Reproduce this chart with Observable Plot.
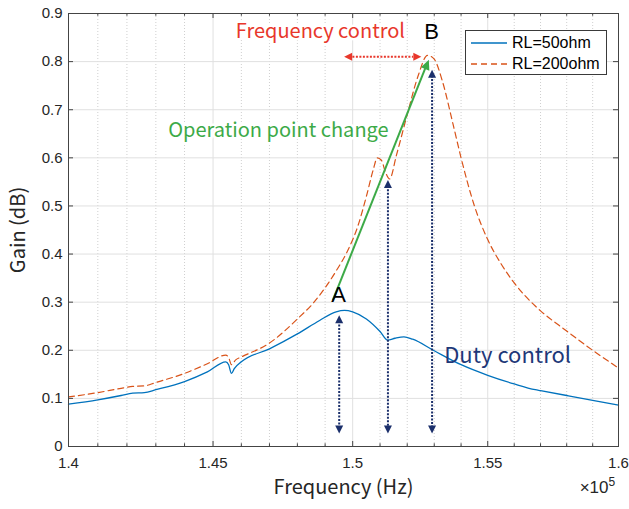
<!DOCTYPE html>
<html>
<head>
<meta charset="utf-8">
<script src="https://cdn.jsdelivr.net/npm/d3@7"></script>
<script src="https://cdn.jsdelivr.net/npm/@observablehq/plot@0.6"></script>
<style>
  body { margin: 0; background: #fff; }
  #wrap { position: relative; width: 629px; height: 509px; }
  .legend {
    position: absolute; left: 465px; top: 30px; width: 142px; height: 45px;
    border: 1px solid #3a3a3a; background: #fff; box-sizing: border-box;
    font: 16px "Liberation Sans", Arial, sans-serif; color: #000;
  }
  .legend .row { position: absolute; left: 4px; height: 18px; display: flex; align-items: center; }
  .legend svg { margin-right: 4px; }
</style>
</head>
<body>
<div id="wrap"></div>
<script>
// Frequency in units of 1e5 Hz (axis multiplier shown as ×10^5)
const xTicks = [1.4, 1.45, 1.5, 1.55, 1.6];
const xMinor = d3.range(140, 161).map(d => d / 100);
const yTicks = [0, 0.1, 0.2, 0.3, 0.4, 0.5, 0.6, 0.7, 0.8, 0.9];

// RL = 50 ohm
const freq50 = [1.400, 1.410, 1.418, 1.422, 1.426, 1.430, 1.440, 1.448, 1.4545, 1.4555, 1.4565, 1.4575,
  1.460, 1.470, 1.480, 1.488, 1.494, 1.497, 1.500, 1.505, 1.510, 1.5128, 1.5155, 1.5188, 1.522,
  1.530, 1.540, 1.550, 1.560, 1.568, 1.570, 1.580, 1.590, 1.600];
const gain50 = [0.088, 0.097, 0.106, 0.111, 0.112, 0.118, 0.135, 0.155, 0.176, 0.170, 0.152, 0.162,
  0.176, 0.203, 0.234, 0.262, 0.280, 0.283, 0.280, 0.265, 0.239, 0.221, 0.225, 0.228, 0.223,
  0.199, 0.170, 0.148, 0.130, 0.118, 0.116, 0.106, 0.096, 0.086];

// RL = 200 ohm
const freq200 = [1.400, 1.410, 1.418, 1.422, 1.426, 1.430, 1.440, 1.448, 1.4545, 1.4555, 1.4565, 1.458,
  1.460, 1.470, 1.480, 1.486, 1.490, 1.494, 1.498, 1.502, 1.505, 1.5075, 1.509, 1.5105, 1.512, 1.5135,
  1.516, 1.520, 1.524, 1.5275, 1.530, 1.533, 1.537, 1.540, 1.545, 1.550, 1.555, 1.560, 1.568, 1.570,
  1.580, 1.590, 1.600];
const gain200 = [0.103, 0.112, 0.121, 0.125, 0.126, 0.133, 0.152, 0.172, 0.190, 0.185, 0.170, 0.180,
  0.186, 0.215, 0.265, 0.300, 0.330, 0.365, 0.405, 0.460, 0.520, 0.575, 0.600, 0.595, 0.570, 0.556,
  0.605, 0.690, 0.770, 0.813, 0.805, 0.760, 0.670, 0.600, 0.500, 0.430, 0.380, 0.340, 0.292, 0.282,
  0.240, 0.200, 0.163];

// Operating points and control annotations
const pointA = {f: 1.4928, g: 0.304};
const pointB = {f: 1.5280, g: 0.804};
const dutyFreqs = [1.4951, 1.5129, 1.5292];
const dutyTops = [0.273, 0.554, 0.783];
const dutyBottom = 0.027;
const freqCtrl = {f1: 1.4969, f2: 1.5252, g: 0.81};

const labels = [
  {f: 1.4883, g: 0.8625, text: "Frequency control", color: "#e8372b", size: 20, font: "Noto Sans CJK KR", halo: true},
  {f: 1.5290, g: 0.8625, text: "B", color: "#000", size: 22, font: "Liberation Sans", halo: false},
  {f: 1.4732, g: 0.6560, text: "Operation point change", color: "#3caa47", size: 20, font: "Noto Sans CJK KR", halo: true},
  {f: 1.4949, g: 0.3146, text: "A", color: "#000", size: 22, font: "Liberation Sans", halo: false},
  {f: 1.5575, g: 0.1875, text: "Duty control", color: "#1e3878", size: 22, font: "Noto Sans CJK KR", halo: false}
];

const series50 = freq50.map((f, i) => ({f, g: gain50[i]}));
const series200 = freq200.map((f, i) => ({f, g: gain200[i]}));

const W = 629, H = 509, mL = 68, mR = 11, mT = 13, mB = 63;
const xDomain = [1.4, 1.6], yDomain = [0, 0.9];
const sx = Plot.scale({x: {type: "log", domain: xDomain, range: [mL, W - mR]}});
const sy = Plot.scale({y: {type: "linear", domain: yDomain, range: [H - mB, mT]}});

// Filled triangular arrow head with its tip at the anchor point
function head(angle, len = 8, half = 4) {
  const ux = Math.cos(angle), uy = Math.sin(angle), px = -uy, py = ux;
  return {
    draw(ctx) {
      ctx.moveTo(0, 0);
      ctx.lineTo(-len * ux + half * px, -len * uy + half * py);
      ctx.lineTo(-len * ux - half * px, -len * uy - half * py);
      ctx.closePath();
    }
  };
}
const greenAngle = Math.atan2(sy.apply(pointB.g) - sy.apply(pointA.g), sx.apply(pointB.f) - sx.apply(pointA.f));

// tick lengths in data units
const majY = (yDomain[1] - yDomain[0]) * 5 / (H - mB - mT);
const minY = majY * 0.55;
const majX = Math.pow(xDomain[1] / xDomain[0], 5 / (W - mL - mR));
const isMajor = v => xTicks.some(t => Math.abs(t - v) < 1e-9);

const minorGrid = xMinor.filter(v => !isMajor(v));
const navy = "#1b2f6b";

const chart = Plot.plot({
  width: W, height: H,
  marginLeft: mL, marginRight: mR, marginTop: mT, marginBottom: mB,
  x: {type: "log", domain: xDomain},
  y: {domain: yDomain},
  style: {fontFamily: "'Liberation Sans', Arial, sans-serif", fontSize: "15px", color: "#262626", background: "#fff"},
  marks: [
    // grid
    Plot.ruleX(minorGrid, {stroke: "#cfcfcf", strokeDasharray: "1,2", strokeWidth: 1}),
    Plot.ruleX(xTicks.slice(1, -1), {stroke: "#e0e0e0", strokeWidth: 1}),
    Plot.ruleY(yTicks.slice(1, -1), {stroke: "#e0e0e0", strokeWidth: 1}),
    // curves
    Plot.line(series50, {x: "f", y: "g", stroke: "#0072BD", strokeWidth: 1.3, curve: "monotone-x"}),
    Plot.line(series200, {x: "f", y: "g", stroke: "#D95319", strokeWidth: 1.2, strokeDasharray: "6,4", curve: "monotone-x"}),
    // duty control: vertical dotted double arrows
    Plot.link(dutyFreqs, {x1: d => d, x2: d => d, y1: (d, i) => dutyTops[i] - 0.012, y2: dutyBottom + 0.012,
      stroke: navy, strokeWidth: 2, strokeDasharray: "2,1.5"}),
    Plot.dot(dutyFreqs, {x: d => d, y: (d, i) => dutyTops[i], symbol: head(-Math.PI / 2), fill: navy, stroke: "none"}),
    Plot.dot(dutyFreqs, {x: d => d, y: dutyBottom, symbol: head(Math.PI / 2), fill: navy, stroke: "none"}),
    // frequency control: horizontal dotted double arrow
    Plot.link([freqCtrl], {x1: d => d.f1 * 1.002, x2: d => d.f2 / 1.002, y1: "g", y2: "g",
      stroke: "#e8372b", strokeWidth: 2, strokeDasharray: "2,1.5"}),
    Plot.dot([freqCtrl], {x: "f1", y: "g", symbol: head(Math.PI), fill: "#e8372b", stroke: "none"}),
    Plot.dot([freqCtrl], {x: "f2", y: "g", symbol: head(0), fill: "#e8372b", stroke: "none"}),
    // operating point change A -> B
    Plot.link([pointA], {x1: "f", y1: "g", x2: () => pointB.f - 0.0012, y2: () => pointB.g - 0.016,
      stroke: "#3caa47", strokeWidth: 2}),
    Plot.dot([pointB], {x: "f", y: "g", symbol: head(greenAngle, 10, 4.5), fill: "#3caa47", stroke: "none"}),
    // annotation text
    ...labels.map(l => Plot.text([l], {x: "f", y: "g", text: "text", fill: l.color, fontSize: l.size,
      fontFamily: l.font, stroke: l.halo ? "white" : null, strokeWidth: l.halo ? 5 : 0})),
    // box and inward ticks
    Plot.frame({stroke: "#444", strokeWidth: 1}),
    Plot.ruleX(xMinor, {y1: 0, y2: d => isMajor(d) ? majY : minY, stroke: "#444"}),
    Plot.ruleX(xMinor, {y1: 0.9, y2: d => 0.9 - (isMajor(d) ? majY : minY), stroke: "#444"}),
    Plot.ruleY(yTicks, {x1: xDomain[0], x2: xDomain[0] * majX, stroke: "#444"}),
    Plot.ruleY(yTicks, {x1: xDomain[1], x2: xDomain[1] / majX, stroke: "#444"}),
    // axes
    Plot.axisX({ticks: xTicks, tickSize: 0, tickPadding: 11, tickFormat: d => String(d), label: null, fontSize: 15}),
    Plot.axisY({ticks: yTicks, tickSize: 0, tickPadding: 6, tickFormat: d => String(d), label: null, fontSize: 15}),
    Plot.text(["Frequency (Hz)"], {frameAnchor: "bottom", dy: 47, textAnchor: "middle", text: d => d, fontSize: 20,
      fontFamily: "Noto Sans CJK KR", fill: "#262626"}),
    Plot.text(["Gain (dB)"], {frameAnchor: "left", dx: -50, rotate: -90, textAnchor: "middle", text: d => d, fontSize: 20,
      fontFamily: "Noto Sans CJK KR", fill: "#262626"}),
    Plot.text(["×10"], {frameAnchor: "bottom-right", dx: -10, dy: 46, textAnchor: "end", text: d => d, fontSize: 17, fill: "#262626"}),
    Plot.text(["5"], {frameAnchor: "bottom-right", dx: -10, dy: 39, textAnchor: "start", text: d => d, fontSize: 12, fill: "#262626"})
  ]
});

const wrap = document.getElementById("wrap");
wrap.appendChild(chart);

// legend
const legend = document.createElement("div");
legend.className = "legend";
const entries = [
  {name: "RL=50ohm", color: "#0072BD", dash: null, top: 3},
  {name: "RL=200ohm", color: "#D95319", dash: "6,4", top: 24}
];
entries.forEach(e => {
  const row = document.createElement("div");
  row.className = "row";
  row.style.top = e.top + "px";
  row.innerHTML = `<svg width="38" height="10"><line x1="1" y1="5" x2="37" y2="5" stroke="${e.color}" stroke-width="1.3" ${e.dash ? `stroke-dasharray="${e.dash}"` : ""}/></svg><span>${e.name}</span>`;
  legend.appendChild(row);
});
wrap.appendChild(legend);
</script>
</body>
</html>
